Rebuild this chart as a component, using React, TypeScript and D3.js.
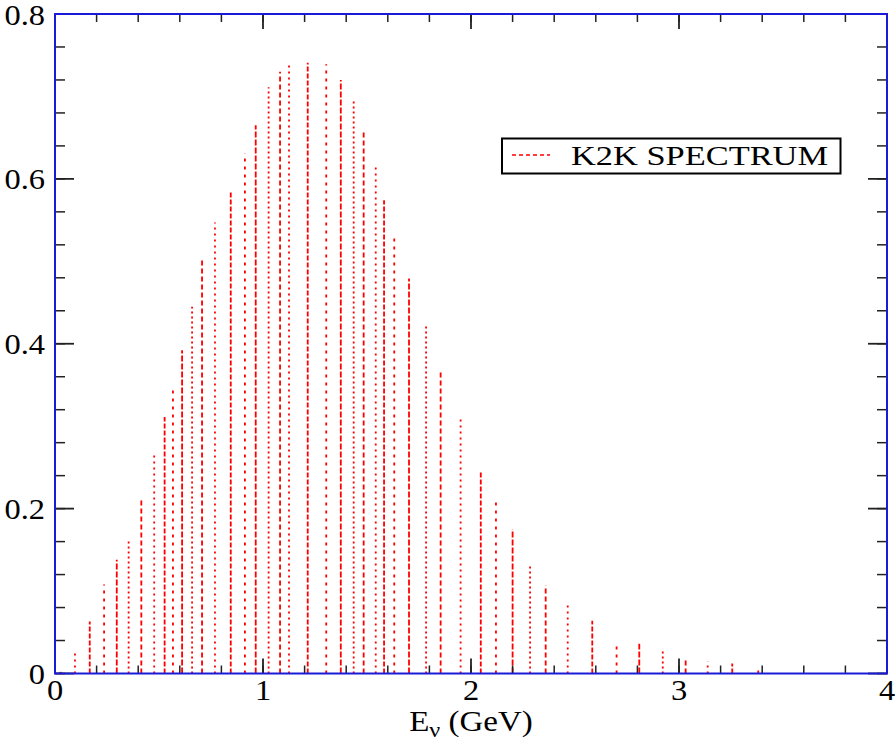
import React from "react";
import * as d3 from "d3";

// K2K spectrum: energy (GeV) and flux
const energies = [
  0.027, 0.096, 0.167, 0.236, 0.297, 0.354, 0.415, 0.477, 0.527, 0.567,
  0.611, 0.659, 0.707, 0.769, 0.845, 0.913, 0.965, 1.027, 1.082, 1.125,
  1.215, 1.304, 1.374, 1.436, 1.484, 1.542, 1.582, 1.631, 1.702, 1.784,
  1.854, 1.95, 2.047, 2.12, 2.2, 2.284, 2.359, 2.465, 2.583, 2.7,
  2.809, 2.922, 3.032, 3.138, 3.256, 3.381,
];
const flux = [
  0.002, 0.029, 0.063, 0.108, 0.138, 0.161, 0.211, 0.267, 0.311, 0.348,
  0.392, 0.445, 0.501, 0.547, 0.586, 0.631, 0.665, 0.711, 0.73, 0.742,
  0.741, 0.739, 0.72, 0.695, 0.659, 0.615, 0.574, 0.529, 0.479, 0.424,
  0.366, 0.308, 0.245, 0.21, 0.175, 0.131, 0.107, 0.086, 0.064, 0.036,
  0.036, 0.027, 0.018, 0.015, 0.012, 0.007,
];
const xTicks = [0, 1, 2, 3, 4];
const yTicks = [0, 0.2, 0.4, 0.6, 0.8];
const legendLabel = "K2K SPECTRUM";

const W = 895;
const H = 747;
const left = 55, right = 887, top = 14, bottom = 673.5;

// the impulses come out with different dash phases in the original
const dashes = ["5,3", "2,4", "5,2", "3,5", "6,2", "2,3"];

export default function App() {
  const x = d3.scaleLinear().domain([0, 4]).range([left, right]);
  const y = d3.scaleLinear().domain([0, 0.8]).range([bottom, top]);

  const xMinor = d3.range(0, 4.0001, 0.2);
  const yMinor = d3.range(0, 0.8001, 0.04);
  const font = "'Liberation Serif', 'Times New Roman', serif";

  return (
    <svg width={W} height={H} style={{ position: "absolute", left: 0, top: 0, background: "#fff" }}>
      {/* impulses */}
      {energies.map((e, i) => (
        <line key={i} x1={x(e)} x2={x(e)} y1={y(0)} y2={y(flux[i])}
          stroke="#ff0000" strokeWidth={1.8}
          strokeDasharray={dashes[i % dashes.length]} />
      ))}

      {/* minor ticks */}
      {xMinor.map((v, i) => (
        <g key={"xm" + i} stroke="#222" strokeWidth={1.5}>
          <line x1={x(v)} x2={x(v)} y1={bottom} y2={bottom - 8} />
          <line x1={x(v)} x2={x(v)} y1={top} y2={top + 8} />
        </g>
      ))}
      {yMinor.map((v, i) => (
        <g key={"ym" + i} stroke="#222" strokeWidth={1.5}>
          <line x1={left} x2={left + 10} y1={y(v)} y2={y(v)} />
          <line x1={right} x2={right - 10} y1={y(v)} y2={y(v)} />
        </g>
      ))}
      {/* major ticks */}
      {xTicks.map((v, i) => (
        <g key={"xM" + i} stroke="#222" strokeWidth={1.8}>
          <line x1={x(v)} x2={x(v)} y1={bottom} y2={bottom - 15} />
          <line x1={x(v)} x2={x(v)} y1={top} y2={top + 15} />
        </g>
      ))}
      {yTicks.map((v, i) => (
        <g key={"yM" + i} stroke="#222" strokeWidth={1.8}>
          <line x1={left} x2={left + 19} y1={y(v)} y2={y(v)} />
          <line x1={right} x2={right - 19} y1={y(v)} y2={y(v)} />
        </g>
      ))}

      {/* frame */}
      <rect x={left} y={top} width={right - left} height={bottom - top}
        fill="none" stroke="#1a1ad8" strokeWidth={2} />

      {/* tick labels, slightly wide like the original */}
      {yTicks.map((v, i) => (
        <g key={"yl" + i} transform={`translate(${left - 10},${Math.max(y(v) + 10, 25)}) scale(1.12,1)`}>
          <text textAnchor="end" fontFamily={font} fontSize={29} fill="#000">
            {v === 0 ? "0" : d3.format(".1f")(v)}
          </text>
        </g>
      ))}
      {xTicks.map((v, i) => (
        <g key={"xl" + i} transform={`translate(${x(v)},700) scale(1.12,1)`}>
          <text textAnchor="middle" fontFamily={font} fontSize={29} fill="#000">
            {v}
          </text>
        </g>
      ))}

      {/* axis title */}
      <g transform={`translate(${x(2)},731) scale(1.1,1)`}>
        <text textAnchor="middle" fontFamily={font} fontSize={30} fill="#000">
          E<tspan dy={6} fontSize={22}>ν</tspan><tspan dy={-6}> (GeV)</tspan>
        </text>
      </g>

      {/* legend */}
      <rect x={502} y={138.5} width={338.5} height={35} fill="#fff" stroke="#000" strokeWidth={2} />
      <line x1={512} x2={550} y1={155} y2={155} stroke="#ff0000" strokeWidth={1.5} strokeDasharray="4,3" />
      <text x={571} y={165} fontFamily={font} fontSize={28} fill="#000"
        textLength={257} lengthAdjust="spacingAndGlyphs">
        {legendLabel}
      </text>
    </svg>
  );
}
